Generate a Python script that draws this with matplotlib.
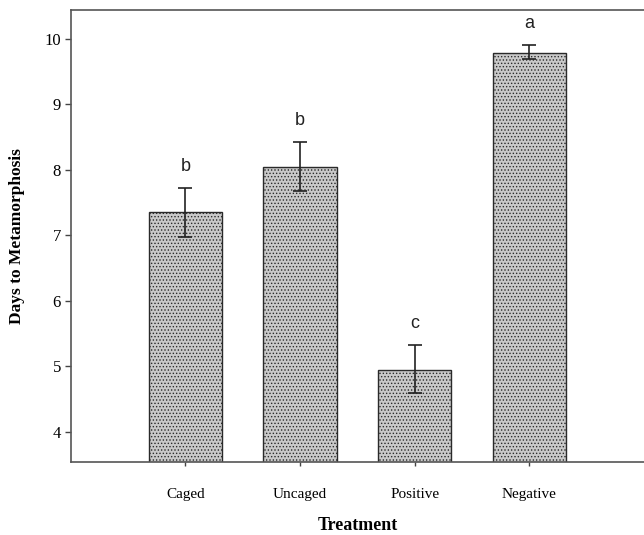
import matplotlib
matplotlib.use("Agg")
import matplotlib.pyplot as plt

categories = ["Caged", "Uncaged", "Positive", "Negative"]
means = [7.36, 8.05, 4.95, 9.79]
err_upper = [0.36, 0.37, 0.38, 0.12]
err_lower = [0.38, 0.38, 0.36, 0.10]
letters = ["b", "b", "c", "a"]
yticks = [4, 5, 6, 7, 8, 9, 10]

plt.rcParams['hatch.color'] = '#9a9a9a'
plt.rcParams['hatch.linewidth'] = 0.6

fig = plt.figure(figsize=(6.44, 5.35), dpi=100)
ax = fig.add_axes([0.110, 0.1364, 0.89, 0.845])

x = list(range(len(categories)))
ax.bar(x, means, width=0.64, bottom=0, color='#c9c9c9', edgecolor='#2a2a2a',
       linewidth=1.0, hatch='.....', zorder=2)
ax.errorbar(x, means, yerr=[err_lower, err_upper], fmt='none', ecolor='#222222',
            elinewidth=1.2, capsize=5, capthick=1.2, zorder=3)
for xi, m, eu, lt in zip(x, means, err_upper, letters):
    ax.text(xi, m + eu + 0.2, lt, ha='center', va='bottom', fontsize=13,
            family='Liberation Sans', color='#222222')

ax.set_xlim(-1.0, 4.0)
ax.set_ylim(3.54, 10.44)
ax.set_yticks(yticks)
ax.set_yticklabels([str(t) for t in yticks], family='Liberation Serif', fontsize=12)
ax.set_xticks(x)
ax.set_xticklabels(categories, family='Liberation Serif', fontsize=11)
ax.tick_params(axis='y', length=4, width=1, color='#444444', pad=3)
ax.tick_params(axis='x', length=3, width=1, color='#444444', pad=16)

ax.set_ylabel("Days to Metamorphosis", family='Liberation Serif', fontweight='bold',
              fontsize=12.5, labelpad=14)
ax.set_xlabel("Treatment", family='Liberation Serif', fontweight='bold',
              fontsize=13, labelpad=11)

for s in ['left', 'bottom', 'top']:
    ax.spines[s].set_color('#555555')
    ax.spines[s].set_linewidth(1.2)
ax.spines['right'].set_visible(False)

fig.savefig("out.png", dpi=100)
